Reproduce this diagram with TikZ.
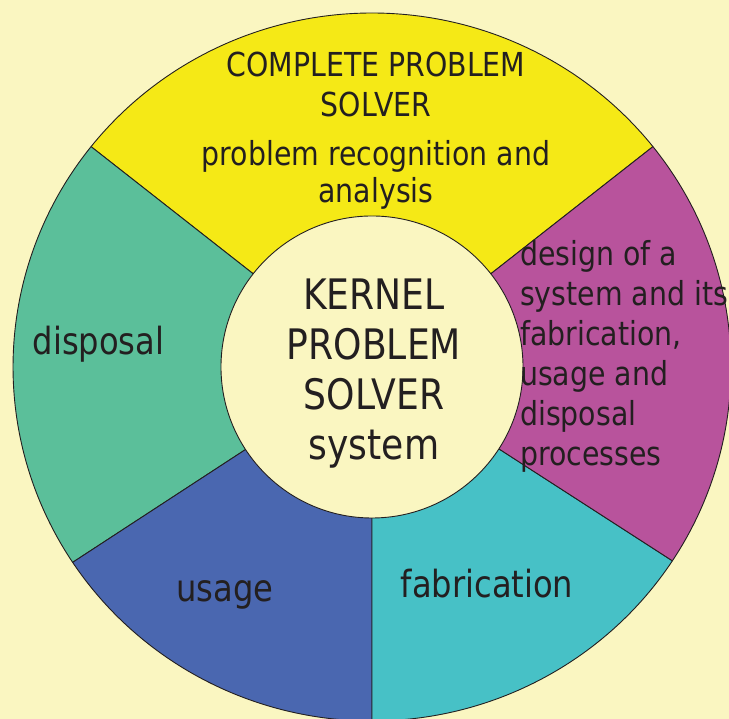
\documentclass[tikz,border=0pt]{standalone}
\usepackage{fontspec}
\setmainfont{DejaVu Sans}[FakeStretch=0.86]
\definecolor{bgpale}{HTML}{FAF6C1}
\definecolor{wheelyellow}{HTML}{F5E916}
\definecolor{wheelgreen}{HTML}{5BBF9A}
\definecolor{wheelblue}{HTML}{4A67B0}
\definecolor{wheelteal}{HTML}{47C1C6}
\definecolor{wheelmagenta}{HTML}{B8539C}
\definecolor{inkdark}{HTML}{231F20}

\begin{document}
\begin{tikzpicture}[
  x=1pt, y=1pt,
  every node/.style={text=inkdark, inner sep=0pt},
  sector/.style={draw=inkdark, line width=0.9pt, line join=round},
  phase/.style={font=\fontsize{37.4}{40}\selectfont, anchor=base},
  heading/.style={font=\fontsize{33}{40}\selectfont, align=center, anchor=base}
]
\useasboundingbox[fill=bgpale] (0,0) rectangle (729,719);
\clip (0,0) rectangle (729,719);
\coordinate (hub) at (372,352);
\foreach \from/\to/\segcol in {38.5/141.5/wheelyellow, 141.5/213.5/wheelgreen,
    213.5/270/wheelblue, 270/326.8/wheelteal, -33.2/38.5/wheelmagenta}
  \filldraw[sector, fill=\segcol] (hub) -- ++(\from:359 and 354)
    arc[start angle=\from, end angle=\to, x radius=359, y radius=354] -- cycle;
\node[circle, draw=inkdark, line width=0.9pt, fill=bgpale, minimum size=302pt] (kernel) at (hub) {};

\node[heading] (title) at (376,602) {COMPLETE PROBLEM\\SOLVER};
\node[heading, font=\fontsize{33}{37}\selectfont] (task) at (376,516) {problem recognition and\\analysis};
\node[font=\fontsize{42}{50}\selectfont, align=center, anchor=base] (kerneltext) at (374,259) {KERNEL\\PROBLEM\\SOLVER\\system};
\node[font=\fontsize{33}{40}\selectfont, align=left, anchor=base west] (design) at (520,253)
  {design of a\\system and its\\fabrication,\\usage and\\disposal\\processes};
\node[phase] (disposal) at (98.5,364) {disposal};
\node[phase] (usage) at (225,117.3) {usage};
\node[phase] (fabrication) at (487,121) {fabrication};
\end{tikzpicture}
\end{document}
